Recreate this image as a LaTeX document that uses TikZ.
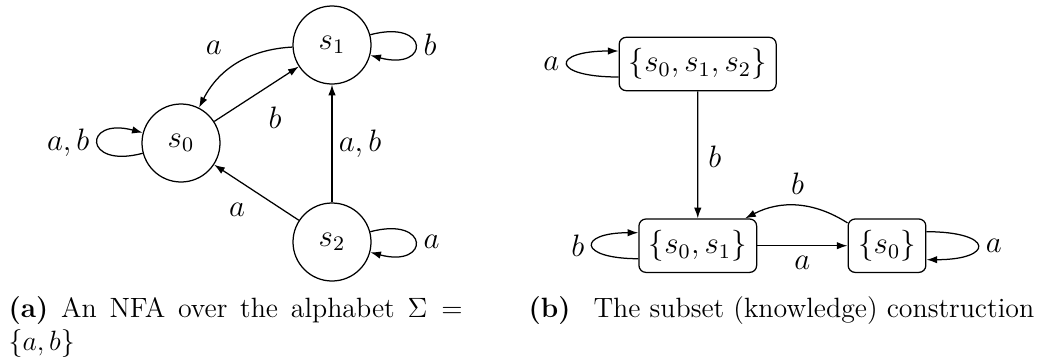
\documentclass[tikz,border=0pt]{standalone}
\usepackage{graphicx}
\usetikzlibrary{arrows.meta,calc}
\def\pxu{0.43pt}
\newcommand\mtx[1]{\scalebox{1.11}{$#1$}}
\begin{document}
\begin{tikzpicture}[x=\pxu,y=\pxu,>={Latex[length=4.6pt,width=3.2pt]},line width=1.25*\pxu,
  every node/.style={font=\fontsize{12}{14}\selectfont},
  st/.style={draw,circle,minimum size=78*\pxu,inner sep=0pt},
  bx/.style={draw,rounded corners=7*\pxu,minimum height=53.4*\pxu,inner sep=0pt},
  captxt/.style={anchor=base west,inner sep=0pt}]
\useasboundingbox (0,0) rectangle (1049,-360);
% (a) NFA
\node[st] (s0) at (181,-143) {\mtx{s_0}};
\node[st] (s1) at (332,-45) {\mtx{s_1}};
\node[st] (s2) at (332,-242) {\mtx{s_2}};
\draw[->] (s1) to[bend right=30] node[shift={(-23,16)}] {\mtx{a}} (s0);
\draw[->] (s0) -- node[shift={(18.5,-24)}] {\mtx{b}} (s1);
\draw[->] (s2) -- node[shift={(28,0)}] {\mtx{a,b}} (s1);
\draw[->] (s2) -- node[shift={(-19.5,-17.5)}] {\mtx{a}} (s0);
\draw[->] (s1.15) .. controls +(15:62) and +(-15:62) .. node[right] {\mtx{b}} (s1.-15);
\draw[->] (s2.15) .. controls +(15:62) and +(-15:62) .. node[right] {\mtx{a}} (s2.-15);
\draw[->] (s0.195) .. controls +(195:62) and +(165:62) .. node[left] {\mtx{a,b}} (s0.165);
% (b) subset construction
\node[bx,minimum width=157*\pxu] (t012) at (697.7,-64) {\mtx{\{s_0,s_1,s_2\}}};
\node[bx,minimum width=117.7*\pxu] (t01) at (697.8,-245.7) {\mtx{\{s_0,s_1\}}};
\node[bx,minimum width=77.7*\pxu] (t0) at (887,-245.7) {\mtx{\{s_0\}}};
\draw[->] (t012) -- node[shift={(17,-2)}] {\mtx{b}} (t01);
\draw[->] (t01) -- node[shift={(0,-17.3)}] {\mtx{a}} (t0);
\draw[->] (t0) to[bend right=30] node[shift={(0.6,21.9)}] {\mtx{b}} (t01);
\draw[->] ($(t012.west)+(0,-13)$) .. controls +(-68,0) and +(-68,0) .. node[left] {\mtx{a}} ($(t012.west)+(0,13)$);
\draw[->] ($(t01.west)+(0,-13)$) .. controls +(-61,0) and +(-61,0) .. node[left] {\mtx{b}} ($(t01.west)+(0,13)$);
\draw[->] ($(t0.east)+(0,14)$) .. controls +(68,0) and +(68,0) .. node[right] {\mtx{a}} ($(t0.east)+(0,-14)$);
% captions
\node[captxt] (capa1) at (8,-317) {\makebox[454\dimexpr\pxu\relax][s]{\textbf{(a)}\ An NFA over the alphabet $\Sigma =$}};
\node[captxt] (capa2) at (8,-350) {$\{a,b\}$};
\node[captxt] (capb) at (528,-317) {\textbf{(b)}\hspace{23\dimexpr\pxu\relax}The subset (knowledge) construction};
\end{tikzpicture}
\end{document}
